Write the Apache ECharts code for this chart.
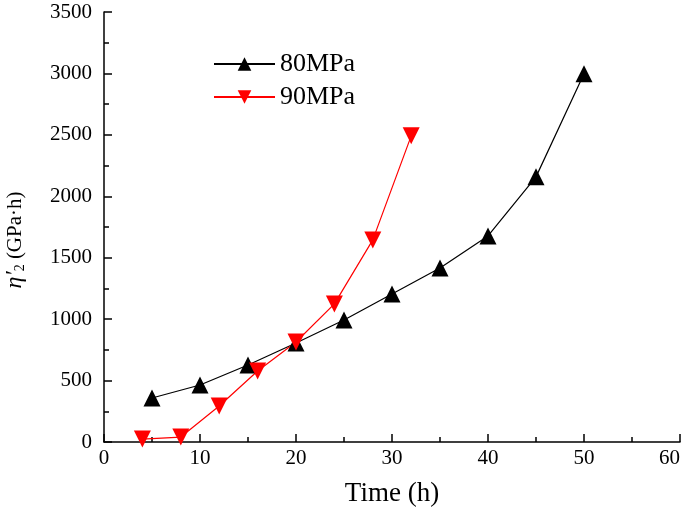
<!DOCTYPE html>
<html><head><meta charset="utf-8">
<script src="https://cdn.jsdelivr.net/npm/echarts@6/dist/echarts.min.js"></script>
<style>html,body{margin:0;padding:0;background:#fff}#c{width:685px;height:510px}</style>
</head><body><div id="c"></div>
<script>
const x80 = [5, 10, 15, 20, 25, 30, 35, 40, 45, 50];
const y80 = [358, 464, 627, 806, 993, 1205, 1417, 1677, 2158, 2997];
const x90 = [4, 8, 12, 16, 20, 24, 28, 32];
const y90 = [24, 40, 293, 578, 814, 1124, 1645, 2492];
const xTicks = [0, 10, 20, 30, 40, 50, 60];
const yTicks = [0, 500, 1000, 1500, 2000, 2500, 3000, 3500];

const font = '"Liberation Serif", "Times New Roman", serif';
const chart = echarts.init(document.getElementById('c'));
chart.setOption({
  animation: false,
  backgroundColor: '#fff',
  textStyle: { fontFamily: font },
  grid: { left: 104, right: 5, top: 12, bottom: 68, containLabel: false, outerBoundsMode: 'none' },
  legend: {
    orient: 'vertical', left: 213, top: 51, padding: 0, itemWidth: 61, itemHeight: 17, itemGap: 7,
    textStyle: { fontFamily: font, fontSize: 26, lineHeight: 26, color: '#000' },
    data: ['80MPa', '90MPa']
  },
  xAxis: {
    type: 'value', min: xTicks[0], max: xTicks[xTicks.length - 1], interval: 10,
    name: 'Time (h)', nameLocation: 'middle', nameGap: 38,
    nameTextStyle: { fontFamily: font, fontSize: 27, color: '#000' },
    axisLine: { lineStyle: { color: '#000', width: 1.5 } },
    axisTick: { inside: true, length: 8, lineStyle: { color: '#000', width: 1.5 } },
    minorTick: { show: true, splitNumber: 2, length: 5, lineStyle: { color: '#000', width: 1.5 } },
    axisLabel: { fontFamily: font, fontSize: 21, color: '#000', margin: 6, alignMaxLabel: 'right', formatter: v => String(v) },
    splitLine: { show: false }
  },
  yAxis: {
    type: 'value', min: yTicks[0], max: yTicks[yTicks.length - 1], interval: 500,
    name: '{i|η′}{s|2} (GPa·h)', nameLocation: 'middle', nameGap: 77,
    nameTextStyle: {
      fontFamily: font, fontSize: 21, color: '#000', padding: [0, 26, 0, 0],
      rich: {
        i: { fontFamily: font, fontSize: 24, fontStyle: 'italic', color: '#000' },
        s: { fontFamily: font, fontSize: 14, color: '#000', verticalAlign: 'bottom', padding: [10, 0, 0, 0] }
      }
    },
    axisLine: { show: true, lineStyle: { color: '#000', width: 1.5 } },
    axisTick: { show: true, inside: true, length: 8, lineStyle: { color: '#000', width: 1.5 } },
    minorTick: { show: true, splitNumber: 2, length: 5, lineStyle: { color: '#000', width: 1.5 } },
    axisLabel: { fontFamily: font, fontSize: 21, color: '#000', margin: 12, formatter: v => String(v) },
    splitLine: { show: false }
  },
  series: [
    {
      name: '80MPa', type: 'line', data: x80.map((v, i) => [v, y80[i]]),
      symbol: 'triangle', symbolSize: 17,
      lineStyle: { color: '#000', width: 1.2 }, itemStyle: { color: '#000' }
    },
    {
      name: '90MPa', type: 'line', data: x90.map((v, i) => [v, y90[i]]),
      symbol: 'triangle', symbolRotate: 180, symbolSize: 17,
      lineStyle: { color: '#ff0000', width: 1.2 }, itemStyle: { color: '#ff0000' }
    }
  ]
});
</script></body></html>
